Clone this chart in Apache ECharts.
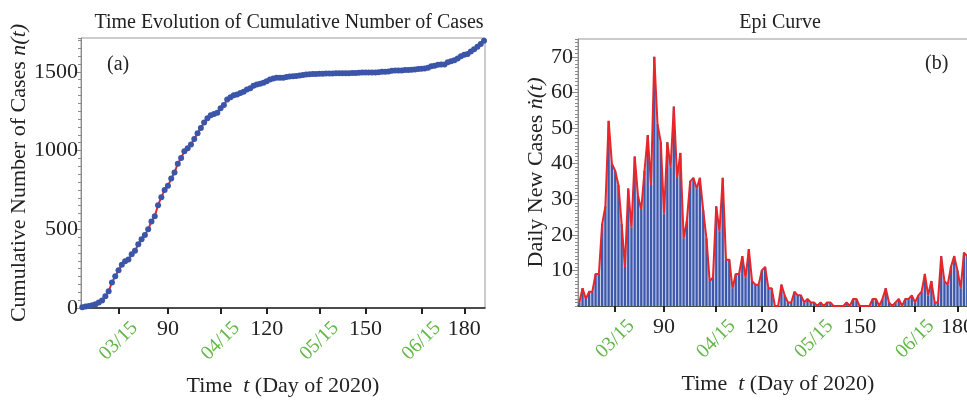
<!DOCTYPE html>
<html>
<head>
<meta charset="utf-8">
<script src="https://cdn.jsdelivr.net/npm/echarts@6/dist/echarts.min.js"></script>
<style>
html,body{margin:0;padding:0;background:#fff;}
#c{width:967px;height:400px;}
</style>
</head>
<body>
<div id="c"></div>
<script>
// ---- data ----
const firstDay = 64;
const dailyNew = [
  1, 5, 2, 4, 4, 9, 9, 23, 28, 52,
  40, 38, 34, 23, 11, 33, 22, 42, 31, 27,
  38, 48, 34, 70, 51, 46, 26, 46, 39, 56,
  36, 43, 19, 24, 35, 36, 33, 36, 27, 19,
  7, 8, 28, 21, 36, 13, 13, 5, 9, 9,
  14, 8, 16, 7, 6, 6, 10, 11, 5, 5,
  0, 0, 6, 3, 1, 1, 4, 3, 3, 1,
  2, 1, 1, 0, 1, 0, 1, 1, 0, 0,
  0, 0, 1, 0, 2, 2, 0, 0, 0, 0,
  2, 2, 0, 2, 5, 1, 0, 1, 2, 0,
  2, 2, 3, 1, 3, 4, 9, 3, 7, 1,
  1, 14, 7, 6, 11, 14, 10, 5, 15, 14,
  17, 17, 21
];
const cumulative = [
  4, 10, 13, 18, 24, 35, 48, 75, 107, 162,
  202, 240, 274, 297, 308, 341, 363, 405, 436, 463,
  501, 549, 583, 653, 704, 750, 776, 822, 861, 917,
  953, 996, 1015, 1039, 1074, 1110, 1143, 1179, 1206, 1225,
  1232, 1240, 1268, 1289, 1325, 1338, 1351, 1356, 1365, 1374,
  1388, 1396, 1412, 1419, 1425, 1431, 1441, 1452, 1457, 1462,
  1462, 1462, 1468, 1471, 1472, 1473, 1477, 1480, 1483, 1484,
  1486, 1487, 1488, 1488, 1489, 1489, 1490, 1491, 1491, 1491,
  1491, 1491, 1492, 1492, 1494, 1496, 1496, 1496, 1496, 1496,
  1498, 1500, 1500, 1502, 1507, 1508, 1508, 1509, 1511, 1511,
  1513, 1515, 1518, 1519, 1522, 1526, 1535, 1538, 1545, 1546,
  1547, 1561, 1568, 1574, 1585, 1599, 1609, 1614, 1629, 1643,
  1660, 1677, 1698
];
const days = dailyNew.map((_, i) => firstDay + i);
const dayTicks = [90, 120, 150, 180];
const dateTicks = [75, 106, 136, 167];
const dateLabels = ['03/15', '04/15', '05/15', '06/15'];
const allTicks = [75, 90, 106, 120, 136, 150, 167, 180];
const cumTicks = [0, 500, 1000, 1500];
const dailyTicks = [10, 20, 30, 40, 50, 60, 70];

// ---- styles ----
const FONT = 'Liberation Serif';
const TXT = '#222';
const GREEN = '#62b847';
const GRAY = '#8c8c8c';
const XMIN = 63.6, XMAX = 186.3;

const cumData = days.map((d, i) => [d, cumulative[i]]);
const dailyData = days.map((d, i) => [d, dailyNew[i]]);

function numX(grid, name) {
  return {
    type: 'value', gridIndex: grid, position: 'bottom', min: XMIN, max: XMAX,
    name: name, nameLocation: 'middle', nameGap: 67,
    nameTextStyle: {fontFamily: FONT, fontSize: 22, color: TXT,
      rich: {i: {fontFamily: FONT, fontSize: 22, color: TXT, fontStyle: 'italic'}}},
    axisLine: {show: true, onZero: false, lineStyle: {color: '#222', width: 1.5}},
    axisTick: {show: true, inside: false, length: 6, customValues: allTicks,
      lineStyle: {color: '#222', width: 2}},
    axisLabel: {show: true, customValues: dayTicks, margin: 10,
      fontFamily: FONT, fontSize: 22, color: TXT, formatter: v => String(Math.round(v))},
    splitLine: {show: false}
  };
}
function dateX(grid) {
  return {
    type: 'value', gridIndex: grid, position: 'bottom', min: XMIN, max: XMAX,
    axisLine: {show: false}, axisTick: {show: false}, splitLine: {show: false},
    axisLabel: {show: true, customValues: dateTicks, rotate: 45, margin: 33,
      align: 'center', verticalAlign: 'middle',
      fontFamily: FONT, fontSize: 20, color: GREEN,
      formatter: v => dateLabels[dateTicks.indexOf(Math.round(v))] || ''}
  };
}
function majorY(grid, max, ticks, name, gap, margin) {
  return {
    type: 'value', gridIndex: grid, position: 'left', min: 0, max: max,
    name: name, nameLocation: 'middle', nameGap: gap,
    nameTextStyle: {fontFamily: FONT, fontSize: 22, color: TXT,
      rich: {i: {fontFamily: FONT, fontSize: 22, color: TXT, fontStyle: 'italic'}}},
    axisLine: {show: true, onZero: false, lineStyle: {color: GRAY, width: 1}},
    axisTick: {show: true, inside: false, length: 6, customValues: ticks,
      lineStyle: {color: GRAY, width: 1}},
    axisLabel: {show: true, customValues: ticks, margin: margin,
      fontFamily: FONT, fontSize: 22, color: TXT, formatter: v => String(Math.round(v))},
    splitLine: {show: false}
  };
}
function minorY(grid, max, interval) {
  return {
    type: 'value', gridIndex: grid, position: 'left', min: 0, max: max, interval: interval,
    axisLine: {show: false}, axisLabel: {show: false}, splitLine: {show: false},
    axisTick: {show: true, inside: false, length: 3, lineStyle: {color: GRAY, width: 1}}
  };
}

const chart = echarts.init(document.getElementById('c'), null, {renderer: 'canvas'});
chart.setOption({
  animation: false,
  backgroundColor: '#fff',
  title: [
    {text: 'Time Evolution of Cumulative Number of Cases', left: 284, top: 8, textAlign: 'center',
     textStyle: {fontFamily: FONT, fontSize: 20, fontWeight: 'normal', color: TXT}},
    {text: 'Epi Curve', left: 775, top: 8, textAlign: 'center',
     textStyle: {fontFamily: FONT, fontSize: 20, fontWeight: 'normal', color: TXT}}
  ],
  grid: [
    {left: 81, top: 38, right: 482, bottom: 92, containLabel: false, outerBoundsMode: 'none',
     show: true, borderColor: '#999', borderWidth: 1, backgroundColor: 'transparent'},
    {left: 578, top: 39, right: -11, bottom: 94, containLabel: false, outerBoundsMode: 'none',
     show: true, borderColor: '#999', borderWidth: 1, backgroundColor: 'transparent'}
  ],
  xAxis: [
    numX(0, 'Time  {i|t} (Day of 2020)'),
    dateX(0),
    numX(1, 'Time  {i|t} (Day of 2020)'),
    dateX(1)
  ],
  yAxis: [
    majorY(0, 1715, cumTicks, 'Cumulative Number of Cases {i|n(t)}', 43, 3),
    minorY(0, 1715, 50),
    majorY(1, 75, dailyTicks, 'Daily New Cases {i|ṅ(t)}', 30, 5),
    minorY(1, 75, 1)
  ],
  graphic: [
    {type: 'text', left: 107, top: 55, style: {text: '(a)', font: '20px "Liberation Serif"', fill: TXT}},
    {type: 'text', left: 925, top: 54, style: {text: '(b)', font: '20px "Liberation Serif"', fill: TXT}}
  ],
  series: [
    {type: 'line', xAxisIndex: 0, yAxisIndex: 0, data: cumData, z: 3,
     symbol: 'circle', symbolSize: 6, showSymbol: true,
     itemStyle: {color: '#3b55a8'}, lineStyle: {color: '#e8262a', width: 2}},
    {type: 'line', xAxisIndex: 2, yAxisIndex: 2, data: dailyData, z: 1,
     symbol: 'none', lineStyle: {width: 0, opacity: 0},
     areaStyle: {color: '#c6d0ec', opacity: 1}},
    {type: 'bar', xAxisIndex: 2, yAxisIndex: 2, data: dailyData, z: 2,
     barWidth: 2.2, itemStyle: {color: '#3d58aa'}},
    {type: 'line', xAxisIndex: 2, yAxisIndex: 2, data: dailyData, z: 3,
     symbol: 'none', lineStyle: {color: '#e8262a', width: 2}}
  ]
});
</script>
</body>
</html>
